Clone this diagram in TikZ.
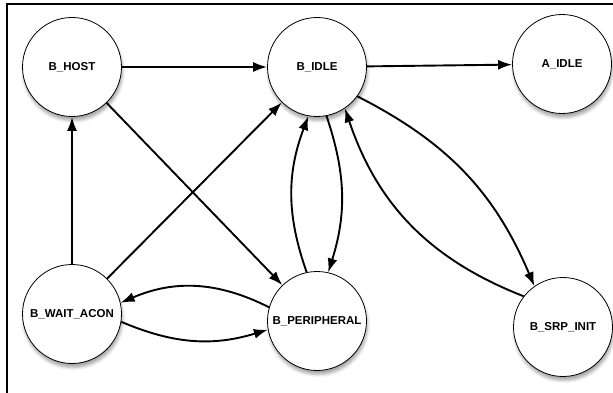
\documentclass[tikz,border=0pt]{standalone}
\usepackage{fontspec}
\setmainfont{Liberation Sans}
\usetikzlibrary{arrows.meta,shadows.blur}

\begin{document}
\begin{tikzpicture}[
		x=1pt, y=1pt,
		every node/.style={circle,draw,line width=0.8pt,fill=white,minimum size=99pt,inner sep=0pt,
			font=\fontsize{11.5}{13}\selectfont\bfseries,
			blur shadow={shadow xshift=1pt,shadow yshift=-4pt,shadow blur radius=3pt,shadow opacity=35}},
		trans/.style={line width=1.9pt,-{Latex[length=14pt,width=10pt]}}
		]
		\useasboundingbox (0,0) rectangle (613,-393);
		\draw[line width=1.5pt] (7,-393) -- (7,-4) -- (613,-4);
		% states
		\node (bhost) at (72,-67) {B\_HOST};
		\node (bidle) at (317,-67) {B\_IDLE};
		\node (aidle) at (562,-64) {A\_IDLE};
		\node (bwait) at (72,-314) {B\_WAIT\_ACON};
		\node (bperiph) at (317,-321) {B\_PERIPHERAL};
		\node (bsrp) at (563,-327) {B\_SRP\_INIT};
		% transitions
		\draw[trans] (bhost) -- (bidle);
		\draw[trans] (bidle) -- (aidle);
		\draw[trans] (bwait) -- (bhost);
		\draw[trans] (bhost) -- (bperiph);
		\draw[trans] (bwait) -- (bidle);
		\draw[trans] (bperiph.164) to[bend right=25] (bwait.13);
		\draw[trans] (bwait.-9) to[bend right=20] (bperiph.190);
		\draw[trans] (bperiph.102) to[bend left=20] (bidle.260);
		\draw[trans] (bidle.281) to[bend left=18] (bperiph.77);
		\draw[trans] (bsrp.142) to[bend left=25] (bidle.304);
		\draw[trans] (bidle.324) to[bend left=20] (bsrp.125);
	\end{tikzpicture}
\end{document}
